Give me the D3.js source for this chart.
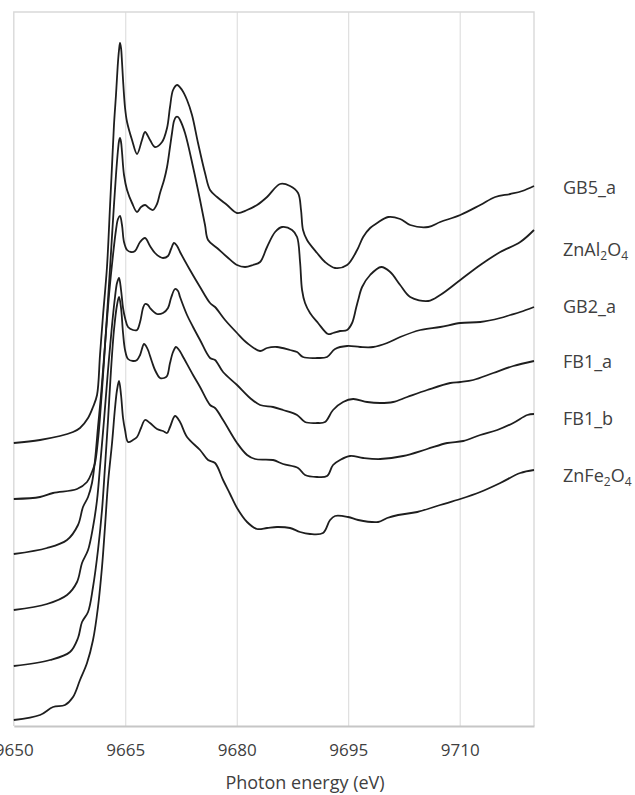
<!DOCTYPE html>
<html>
<head>
<meta charset="utf-8">
<script src="https://cdn.jsdelivr.net/npm/d3@7"></script>
<style>
  html, body { margin: 0; padding: 0; background: #fff; }
  svg { display: block; font-family: "Open Sans", "Liberation Sans", sans-serif; }
</style>
</head>
<body>
<svg id="chart" width="635" height="795"></svg>
<script>
// Zn K-edge XANES spectra, stacked with vertical offsets (arbitrary units).
// Each series: [photon energy (eV), stacked absorbance].

const energyTicks = [9650, 9665, 9680, 9695, 9710];
const energyDomain = [9650, 9720];
const intensityDomain = [0, 7.14];

const seriesNames = ["GB5_a", "ZnAl2O4", "GB2_a", "FB1_a", "FB1_b", "ZnFe2O4"];

const gb5a = [
  [9650.00, 2.83], [9653.53, 2.86], [9657.97, 2.94], [9658.91, 2.98], [9659.99, 3.08],
  [9660.66, 3.19], [9661.20, 3.31], [9661.60, 3.71], [9662.01, 4.11], [9662.54, 4.59],
  [9662.95, 5.20], [9663.22, 5.61], [9663.48, 6.01], [9663.75, 6.31], [9664.02, 6.64],
  [9664.16, 6.76], [9664.29, 6.83], [9664.43, 6.78], [9664.56, 6.64], [9664.70, 6.46],
  [9664.97, 6.18], [9665.24, 6.04], [9665.91, 5.86], [9666.58, 5.72], [9667.25, 5.86],
  [9667.66, 5.94], [9668.33, 5.86], [9669.00, 5.79], [9669.95, 5.84], [9670.62, 5.98],
  [9671.02, 6.19], [9671.43, 6.36], [9671.97, 6.41], [9672.64, 6.36], [9673.31, 6.26],
  [9673.98, 6.11], [9674.79, 5.83], [9675.73, 5.53], [9676.41, 5.36], [9677.35, 5.29],
  [9678.70, 5.21], [9680.04, 5.13], [9681.39, 5.16], [9682.73, 5.21], [9684.08, 5.29],
  [9685.83, 5.42], [9687.17, 5.40], [9688.25, 5.33], [9688.65, 5.16], [9688.92, 4.96],
  [9689.46, 4.86], [9690.81, 4.73], [9691.88, 4.64], [9693.23, 4.58], [9694.85, 4.61],
  [9696.20, 4.76], [9697.01, 4.89], [9697.95, 4.98], [9698.90, 5.03], [9700.38, 5.09],
  [9701.99, 5.07], [9703.34, 5.01], [9705.77, 4.99], [9707.38, 5.04], [9710.08, 5.11],
  [9712.77, 5.21], [9714.79, 5.29], [9716.81, 5.32], [9718.42, 5.35], [9720.00, 5.40]
];

const znal2o4 = [
  [9650.00, 2.27], [9653.53, 2.29], [9655.28, 2.33], [9658.51, 2.37], [9659.85, 2.44],
  [9660.52, 2.54], [9660.93, 2.63], [9661.33, 2.86], [9661.60, 3.09], [9662.01, 3.51],
  [9662.41, 3.96], [9662.95, 4.58], [9663.35, 5.06], [9663.75, 5.51], [9664.02, 5.76],
  [9664.16, 5.85], [9664.29, 5.88], [9664.43, 5.84], [9664.56, 5.74], [9664.83, 5.51],
  [9665.24, 5.36], [9665.91, 5.23], [9666.58, 5.14], [9667.12, 5.19], [9667.66, 5.21],
  [9668.19, 5.18], [9668.73, 5.16], [9669.27, 5.22], [9669.68, 5.33], [9670.22, 5.46],
  [9670.62, 5.59], [9671.02, 5.79], [9671.29, 5.93], [9671.56, 6.05], [9671.83, 6.09],
  [9672.10, 6.09], [9672.37, 6.06], [9673.04, 5.93], [9674.12, 5.59], [9675.06, 5.26],
  [9675.73, 5.01], [9676.14, 4.86], [9677.35, 4.78], [9678.70, 4.69], [9680.04, 4.61],
  [9681.12, 4.59], [9682.19, 4.61], [9683.14, 4.64], [9684.08, 4.79], [9685.16, 4.94],
  [9686.10, 4.99], [9687.44, 4.96], [9688.12, 4.89], [9688.52, 4.64], [9688.79, 4.36],
  [9689.19, 4.23], [9689.86, 4.13], [9690.94, 4.03], [9692.29, 3.92], [9692.96, 3.93],
  [9693.90, 3.95], [9694.85, 3.96], [9695.52, 4.03], [9696.06, 4.18], [9696.34, 4.26],
  [9696.87, 4.39], [9697.95, 4.51], [9699.44, 4.59], [9700.65, 4.54], [9701.99, 4.41],
  [9703.34, 4.29], [9705.77, 4.25], [9707.38, 4.31], [9710.08, 4.46], [9712.77, 4.61],
  [9715.46, 4.74], [9718.15, 4.84], [9720.00, 4.96]
];

const gb2a = [
  [9650.00, 1.72], [9654.47, 1.78], [9657.16, 1.86], [9658.64, 2.01], [9659.31, 2.19],
  [9659.99, 2.29], [9660.52, 2.43], [9660.93, 2.66], [9661.33, 2.99], [9661.74, 3.31],
  [9662.27, 3.81], [9662.81, 4.31], [9663.35, 4.71], [9663.75, 4.96], [9664.02, 5.07],
  [9664.29, 5.10], [9664.56, 5.01], [9664.83, 4.84], [9665.24, 4.76], [9665.77, 4.74],
  [9666.31, 4.75], [9666.99, 4.84], [9667.66, 4.88], [9668.33, 4.80], [9669.00, 4.73],
  [9669.68, 4.69], [9670.08, 4.68], [9670.75, 4.70], [9671.16, 4.77], [9671.56, 4.83],
  [9671.97, 4.80], [9672.37, 4.74], [9673.71, 4.56], [9675.06, 4.39], [9676.41, 4.23],
  [9677.08, 4.19], [9678.43, 4.06], [9680.04, 3.93], [9681.39, 3.83], [9683.14, 3.75],
  [9684.08, 3.78], [9685.42, 3.79], [9687.17, 3.76], [9688.12, 3.74], [9688.92, 3.69],
  [9690.81, 3.68], [9692.15, 3.69], [9693.23, 3.77], [9694.85, 3.80], [9696.60, 3.79],
  [9698.36, 3.79], [9700.24, 3.83], [9701.99, 3.89], [9704.70, 3.96], [9707.38, 3.99],
  [9710.08, 4.03], [9712.77, 4.04], [9715.46, 4.08], [9716.81, 4.11], [9718.15, 4.14],
  [9720.00, 4.19]
];

const fb1a = [
  [9650.00, 1.16], [9654.47, 1.22], [9657.16, 1.31], [9658.51, 1.44], [9659.18, 1.63],
  [9659.99, 1.76], [9660.66, 1.99], [9661.20, 2.26], [9661.60, 2.59], [9662.14, 3.06],
  [9662.68, 3.56], [9663.22, 4.01], [9663.62, 4.29], [9663.89, 4.43], [9664.16, 4.48],
  [9664.43, 4.36], [9664.70, 4.18], [9664.97, 4.08], [9665.37, 3.99], [9666.04, 3.96],
  [9666.58, 3.96], [9666.99, 4.04], [9667.39, 4.18], [9667.66, 4.22], [9668.06, 4.21],
  [9668.33, 4.18], [9669.27, 4.12], [9670.08, 4.13], [9670.75, 4.18], [9671.16, 4.28],
  [9671.70, 4.37], [9672.10, 4.35], [9672.37, 4.29], [9673.31, 4.11], [9674.12, 3.99],
  [9675.06, 3.86], [9676.41, 3.68], [9677.08, 3.66], [9678.16, 3.54], [9680.04, 3.41],
  [9681.79, 3.28], [9683.14, 3.21], [9684.89, 3.19], [9686.23, 3.16], [9688.12, 3.11],
  [9689.19, 3.04], [9690.81, 3.03], [9691.88, 3.04], [9692.96, 3.16], [9694.31, 3.24],
  [9695.66, 3.27], [9697.55, 3.24], [9699.30, 3.23], [9701.05, 3.24], [9702.94, 3.29],
  [9705.63, 3.36], [9708.73, 3.43], [9710.08, 3.44], [9711.83, 3.46], [9714.52, 3.53],
  [9717.21, 3.60], [9720.00, 3.65]
];

const fb1b = [
  [9650.00, 0.60], [9654.87, 0.66], [9657.56, 0.74], [9658.64, 0.88], [9659.18, 1.04],
  [9659.99, 1.14], [9660.66, 1.39], [9661.33, 1.76], [9661.87, 2.16], [9662.27, 2.59],
  [9662.68, 3.06], [9663.08, 3.56], [9663.48, 3.96], [9663.89, 4.21], [9664.16, 4.29],
  [9664.43, 4.18], [9664.70, 3.93], [9664.97, 3.76], [9665.37, 3.67], [9666.04, 3.65],
  [9666.58, 3.66], [9666.99, 3.71], [9667.52, 3.82], [9667.79, 3.80], [9668.06, 3.76],
  [9668.60, 3.64], [9669.00, 3.56], [9669.68, 3.48], [9670.22, 3.48], [9670.62, 3.50],
  [9671.02, 3.63], [9671.43, 3.74], [9671.83, 3.79], [9672.24, 3.76], [9672.64, 3.71],
  [9674.12, 3.51], [9675.06, 3.39], [9676.41, 3.21], [9677.08, 3.18], [9678.16, 3.06],
  [9680.04, 2.83], [9681.39, 2.71], [9682.46, 2.67], [9684.89, 2.66], [9686.23, 2.62],
  [9688.25, 2.58], [9689.19, 2.51], [9690.81, 2.49], [9692.15, 2.50], [9692.96, 2.61],
  [9693.90, 2.66], [9695.25, 2.70], [9697.01, 2.68], [9699.30, 2.67], [9702.40, 2.70],
  [9705.63, 2.77], [9708.33, 2.83], [9710.48, 2.85], [9712.77, 2.91], [9715.06, 2.96],
  [9717.21, 3.03], [9719.10, 3.11], [9720.00, 3.12]
];

const znfe2o4 = [
  [9650.00, 0.06], [9653.53, 0.11], [9655.28, 0.19], [9656.89, 0.21], [9657.97, 0.29],
  [9658.91, 0.46], [9659.85, 0.63], [9660.66, 0.86], [9661.33, 1.19], [9661.87, 1.59],
  [9662.27, 1.99], [9662.68, 2.43], [9663.22, 2.83], [9663.62, 3.18], [9663.89, 3.36],
  [9664.16, 3.45], [9664.43, 3.31], [9664.70, 3.08], [9664.97, 2.96], [9665.37, 2.84],
  [9666.04, 2.86], [9666.58, 2.89], [9667.12, 2.98], [9667.66, 3.06], [9668.33, 3.03],
  [9669.27, 2.97], [9670.08, 2.95], [9670.62, 2.93], [9671.02, 2.99], [9671.70, 3.10],
  [9672.37, 3.04], [9673.31, 2.89], [9675.06, 2.76], [9676.14, 2.66], [9677.08, 2.63],
  [9678.16, 2.46], [9679.10, 2.32], [9680.04, 2.18], [9681.39, 2.04], [9682.73, 1.97],
  [9684.08, 1.98], [9685.42, 1.99], [9687.17, 1.98], [9688.52, 1.94], [9689.86, 1.92],
  [9691.61, 1.93], [9692.56, 2.06], [9693.23, 2.10], [9694.99, 2.09], [9696.34, 2.06],
  [9699.03, 2.04], [9700.24, 2.08], [9701.72, 2.11], [9704.29, 2.14], [9707.38, 2.21],
  [9710.08, 2.27], [9712.77, 2.34], [9715.46, 2.43], [9718.15, 2.53], [9720.00, 2.56]
];

const seriesData = [gb5a, znal2o4, gb2a, fb1a, fb1b, znfe2o4];

// ---- layout ----
const svg = d3.select("#chart");
const plot = { left: 13.8, top: 12, right: 534, bottom: 726 };

const x = d3.scaleLinear().domain(energyDomain).range([plot.left, plot.right]);
const y = d3.scaleLinear().domain(intensityDomain).range([plot.bottom, plot.top]);

// vertical gridlines
svg.append("g")
  .attr("transform", `translate(0,${plot.bottom})`)
  .call(d3.axisBottom(x).tickValues(energyTicks.slice(1)).tickSize(-(plot.bottom - plot.top)).tickFormat(""))
  .call(g => g.select(".domain").remove())
  .call(g => g.selectAll("line").attr("stroke", "#d9d9d9").attr("stroke-width", 1));

// plot frame
svg.append("path")
  .attr("d", `M${plot.left},${plot.bottom}V${plot.top}H${plot.right}V${plot.bottom}`)
  .attr("fill", "none").attr("stroke", "#d9d9d9").attr("stroke-width", 1.4);

// bottom axis with labels
svg.append("g")
  .attr("transform", `translate(0,${plot.bottom})`)
  .call(d3.axisBottom(x).tickValues(energyTicks).tickSize(0).tickPadding(18).tickFormat(d3.format("d")))
  .call(g => g.select(".domain").attr("stroke", "#c6c6c6").attr("stroke-width", 2))
  .call(g => g.selectAll("text")
    .attr("fill", "#404040")
    .style("font-family", "'Open Sans', sans-serif")
    .style("font-size", "17px"));

svg.append("text")
  .attr("x", 305).attr("y", 789)
  .attr("text-anchor", "middle")
  .attr("fill", "#404040")
  .style("font-size", "18px")
  .text("Photon energy (eV)");

// spectra
const line = d3.line()
  .x(d => x(d[0]))
  .y(d => y(d[1]))
  .curve(d3.curveCatmullRom.alpha(0.5));

svg.append("g")
  .selectAll("path")
  .data(seriesData)
  .join("path")
  .attr("d", line)
  .attr("fill", "none")
  .attr("stroke", "#1e1e1e")
  .attr("stroke-width", 1.8)
  .attr("stroke-linejoin", "round");

// series labels at the right end of each curve (chemical formulas get subscripts)
const labelNudge = [2, 20, 0, 1, 5, 6];
const labels = svg.append("g")
  .style("font-size", "18px")
  .attr("fill", "#404040");

seriesNames.forEach((name, i) => {
  const last = seriesData[i][seriesData[i].length - 1];
  const t = labels.append("text")
    .attr("x", 563)
    .attr("y", y(last[1]) + labelNudge[i])
    .attr("dy", "0.35em");
  const parts = name.match(/[A-Za-z_]+|\d+/g);
  const isFormula = /O\d$/.test(name);
  let shifted = 0;
  parts.forEach(p => {
    const ts = t.append("tspan").text(p);
    if (isFormula && /^\d+$/.test(p)) {
      ts.attr("font-size", "12px").attr("dy", 4 - shifted);
      shifted = 4;
    } else if (shifted) {
      ts.attr("dy", -shifted);
      shifted = 0;
    }
  });
});
</script>
</body>
</html>
